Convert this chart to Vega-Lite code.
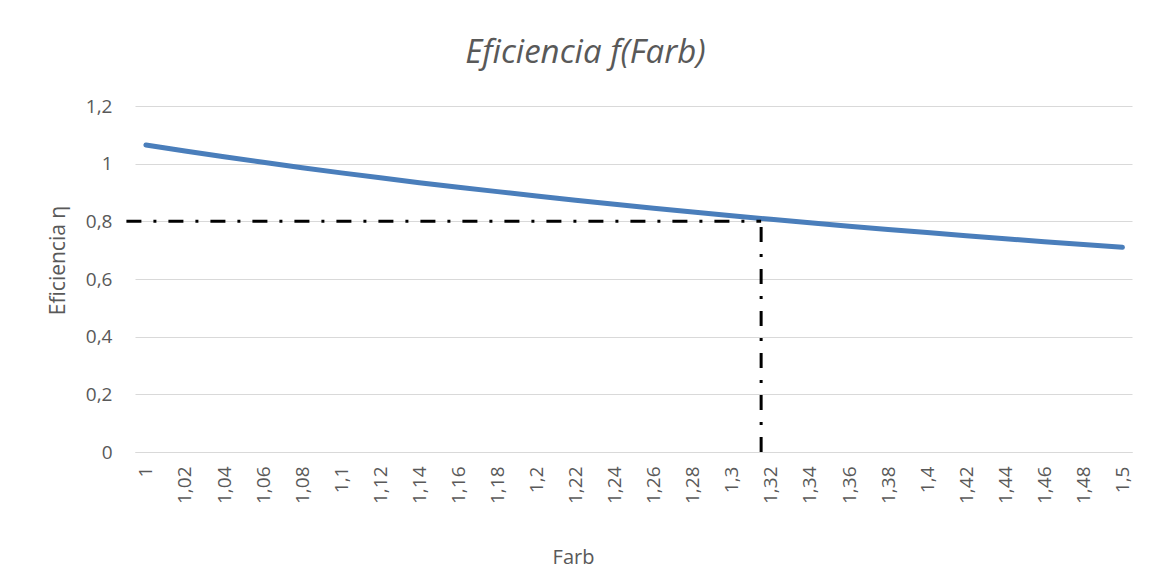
{
  "$schema": "https://vega.github.io/schema/vega-lite/v6.json",
  "autosize": {"type": "none"},
  "width": 997,
  "height": 346,
  "padding": {"left": 135, "top": 106, "right": 24, "bottom": 127},
  "background": "white",
  "config": {
    "font": "Open Sans",
    "view": {"stroke": null},
    "axis": {"labelOverlap": false}
  },
  "title": {
    "text": "Eficiencia f(Farb)",
    "fontStyle": "italic",
    "fontWeight": "normal",
    "fontSize": 33,
    "color": "#595959",
    "font": "Open Sans",
    "anchor": "middle",
    "frame": "group",
    "dx": -48,
    "baseline": "middle",
    "offset": 11
  },
  "datasets": {
    "curve": [
      {"Farb": 1.00, "eta": 1.065},
      {"Farb": 1.02, "eta": 1.044},
      {"Farb": 1.04, "eta": 1.024},
      {"Farb": 1.06, "eta": 1.005},
      {"Farb": 1.08, "eta": 0.986},
      {"Farb": 1.10, "eta": 0.968},
      {"Farb": 1.12, "eta": 0.951},
      {"Farb": 1.14, "eta": 0.934},
      {"Farb": 1.16, "eta": 0.918},
      {"Farb": 1.18, "eta": 0.903},
      {"Farb": 1.20, "eta": 0.888},
      {"Farb": 1.22, "eta": 0.873},
      {"Farb": 1.24, "eta": 0.859},
      {"Farb": 1.26, "eta": 0.845},
      {"Farb": 1.28, "eta": 0.832},
      {"Farb": 1.30, "eta": 0.819},
      {"Farb": 1.32, "eta": 0.807},
      {"Farb": 1.34, "eta": 0.795},
      {"Farb": 1.36, "eta": 0.783},
      {"Farb": 1.38, "eta": 0.772},
      {"Farb": 1.40, "eta": 0.761},
      {"Farb": 1.42, "eta": 0.750},
      {"Farb": 1.44, "eta": 0.740},
      {"Farb": 1.46, "eta": 0.729},
      {"Farb": 1.48, "eta": 0.720},
      {"Farb": 1.50, "eta": 0.710}
    ],
    "hline": [{"Farb": 0.99, "Farb2": 1.315, "eta": 0.8}],
    "vline": [{"Farb": 1.315, "eta": 0, "eta2": 0.8}]
  },
  "encoding": {
    "x": {
      "field": "Farb", "type": "quantitative",
      "scale": {"domain": [0.9944, 1.5049], "nice": false, "zero": false},
      "axis": {
        "values": [1, 1.02, 1.04, 1.06, 1.08, 1.1, 1.12, 1.14, 1.16, 1.18, 1.2, 1.22, 1.24, 1.26, 1.28, 1.3, 1.32, 1.34, 1.36, 1.38, 1.4, 1.42, 1.44, 1.46, 1.48, 1.5],
        "labelExpr": "replace(format(datum.value, '~g'), '.', ',')",
        "grid": false,
        "ticks": false,
        "domainColor": "#d9d9d9",
        "domainWidth": 1,
        "labelAngle": -90,
        "labelAlign": "right",
        "labelBaseline": "middle",
        "labelPadding": 14,
        "labelFontSize": 19,
        "labelColor": "#595959",
        "labelOverlap": false,
        "labelFont": "Open Sans",
        "title": "Farb",
        "titleFont": "Open Sans",
        "titleFontSize": 20,
        "titleFontWeight": "normal",
        "titleColor": "#595959",
        "titleX": 438,
        "titleY": 105,
        "titleAlign": "center",
        "titleBaseline": "middle"
      }
    },
    "y": {
      "field": "eta", "type": "quantitative",
      "scale": {"domain": [0, 1.2], "nice": false},
      "axis": {
        "values": [0, 0.2, 0.4, 0.6, 0.8, 1, 1.2],
        "labelExpr": "replace(format(datum.value, '~g'), '.', ',')",
        "grid": true,
        "gridColor": "#d9d9d9",
        "gridWidth": 1,
        "domain": false,
        "ticks": false,
        "labelPadding": 23,
        "labelFontSize": 19,
        "labelColor": "#595959",
        "labelFont": "Open Sans",
        "title": "Eficiencia η",
        "titleFont": "Open Sans",
        "titleFontSize": 21,
        "titleFontWeight": "normal",
        "titleColor": "#595959",
        "titleAngle": -90,
        "titleX": -77,
        "titleY": 154,
        "titleAlign": "center",
        "titleBaseline": "middle"
      }
    }
  },
  "layer": [
    {
      "data": {"name": "curve"},
      "mark": {"type": "line", "color": "#4a7ebb", "strokeWidth": 5, "strokeCap": "round", "strokeJoin": "round"}
    },
    {
      "data": {"name": "hline"},
      "mark": {"type": "rule", "color": "black", "strokeWidth": 3, "strokeDash": [15, 12, 3, 12]},
      "encoding": {
        "x2": {"field": "Farb2"}
      }
    },
    {
      "data": {"name": "vline"},
      "mark": {"type": "rule", "color": "black", "strokeWidth": 3, "strokeDash": [15, 12, 3, 12]},
      "encoding": {
        "y2": {"field": "eta2"}
      }
    }
  ]
}
